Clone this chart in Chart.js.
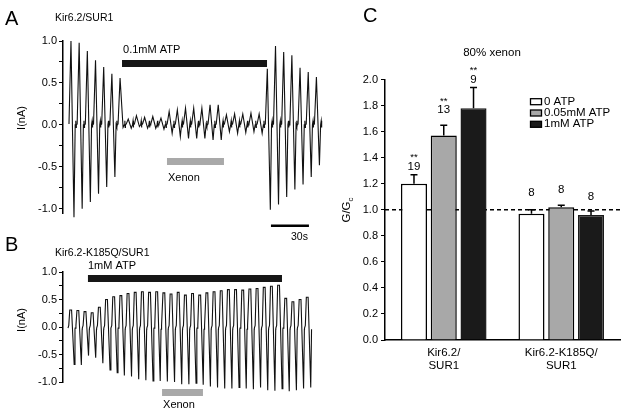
<!DOCTYPE html>
<html><head><meta charset="utf-8">
<script src="https://cdn.jsdelivr.net/npm/chart.js@4/dist/chart.umd.min.js"></script>
<style>
html,body{margin:0;padding:0;background:#fff;}
#wrap{position:relative;width:625px;height:414px;overflow:hidden;background:#fff;}
.box{position:absolute;}
</style></head><body>
<div id="wrap">
<div class="box" style="left:0;top:0;width:330px;height:245px"><canvas id="cA"></canvas></div>
<div class="box" style="left:0;top:228px;width:330px;height:186px"><canvas id="cB"></canvas></div>
<div class="box" style="left:330px;top:0;width:295px;height:414px"><canvas id="cC"></canvas></div>
</div>
<script>
// ---------------- DATA ----------------
// Panel A (Kir6.2/SUR1): peak and trough current (nA) of each voltage-ramp cycle
const aPeaks   = [1.00,0.98,0.88,0.77,0.69,0.61,0.56,
                  0.07,0.11,0.09,0.10,0.08,0.16,0.18,0.20,0.20,0.20,0.24,0.24,0.12,0.13,0.13,0.14,0.13,
                  0.67,0.94,0.87,0.83,0.68,0.63,0.57];
const aTroughs = [-1.10,-1.00,-0.92,-0.82,-0.74,-0.62,-0.03,
                  -0.04,-0.02,-0.04,-0.04,-0.05,-0.10,-0.14,-0.16,-0.16,-0.16,-0.18,-0.18,-0.08,-0.10,-0.09,-0.08,-0.10,
                  -1.01,-0.95,-0.86,-0.77,-0.71,-0.62,-0.48];
const aFirstCycle = 6.3;    // s
const aCyclePeriod = 6.46;  // s
const aATP = [46.6, 161.1];      // s, 0.1mM ATP application
const aXenon = [82.1, 127.1];    // s, xenon application
const scaleBar = [164.2, 194.2]; // 30 s
const aTickValues = [-1, -0.75, -0.5, -0.25, 0, 0.25, 0.5, 0.75, 1];
const aTickLabels = ['-1.0', '', '-0.5', '', '0.0', '', '0.5', '', '1.0'];

// Panel B (Kir6.2-K185Q/SUR1)
const bPeaks   = [0.31,0.30,0.28,0.26,0.36,0.50,0.55,0.57,0.61,0.63,0.64,0.63,0.64,0.62,0.60,0.63,0.58,
                  0.61,0.58,0.62,0.64,0.66,0.68,0.68,0.67,0.69,0.70,0.72,0.74,0.76,0.52,0.46,0.50,0.54];
const bTroughs = [-0.68,-0.69,-0.52,-0.56,-0.66,-0.78,-0.83,-0.88,-0.90,-0.95,-0.97,-0.98,-0.98,-0.99,-1.00,-1.04,-1.04,
                  -1.02,-1.05,-1.08,-1.10,-1.12,-1.12,-1.10,-1.12,-1.13,-1.10,-1.15,-1.16,-1.12,-1.17,-1.15,-1.12,-1.10];
const bFirstCycle = 6.3;    // s
const bCyclePeriod = 5.66;  // s
const bATP = [19.7, 172.9];
const bXenon = [78.2, 110.5];

// Panel C (G/Gc, 80% xenon)
const categories = [['Kir6.2/', 'SUR1'], ['Kir6.2-K185Q/', 'SUR1']];
const atp0     = [1.20, 0.97];
const atp0Err  = [0.07, 0.03];
const atp005   = [1.57, 1.02];
const atp005Err= [0.08, 0.015];
const atp1     = [1.78, 0.96];
const atp1Err  = [0.16, 0.03];
const atp0N    = ['19', '8'];
const atp005N  = ['13', '8'];
const atp1N    = ['9', '8'];
const atp0Sig  = ['**', ''];
const atp005Sig= ['**', ''];
const atp1Sig  = ['**', ''];
const cTickValues = [0, 0.2, 0.4, 0.6, 0.8, 1.0, 1.2, 1.4, 1.6, 1.8, 2.0];
const cTickLabels = ['0.0','0.2','0.4','0.6','0.8','1.0','1.2','1.4','1.6','1.8','2.0'];

// ---------------- HELPERS ----------------
const FONT = "'Liberation Sans', Arial, Helvetica, sans-serif";
function text(ctx, s, x, y, size, align, base, color) {
  ctx.save();
  ctx.font = size + 'px ' + FONT;
  ctx.fillStyle = color || '#000';
  ctx.textAlign = align || 'left';
  ctx.textBaseline = base || 'middle';
  ctx.fillText(s, x, y);
  ctx.restore();
}
function vtext(ctx, s, x, y, size) {
  ctx.save();
  ctx.translate(x, y);
  ctx.rotate(-Math.PI / 2);
  text(ctx, s, 0, 0, size, 'center', 'middle');
  ctx.restore();
}
// waveform of one cycle: [time offset (s), value or 'P' (peak) / 'T' (trough)]
const shapeA = [[-1.58, 0.01], [0, 'P'], [2.37, 'T'], [3.32, 0], [3.79, 0.05], [4.03, -0.03], [4.26, 0]];
const shapeB = [[-2.37, -0.02], [-1.74, 0.03], [-0.95, 'P'], [0.47, 'P'], [2.53, 'T'], [3.16, -0.04]];
function buildTrace(peaks, troughs, t0, period, shape) {
  const pts = [];
  peaks.forEach((pk, i) => {
    const c = t0 + i * period;
    shape.forEach(s => {
      const v = s[1] === 'P' ? pk : (s[1] === 'T' ? troughs[i] : s[1]);
      pts.push({ x: c + s[0], y: v });
    });
  });
  return pts;
}
Chart.defaults.font.family = FONT;
Chart.defaults.color = '#000';

function traceOptions(padding, xmax, ymin, ymax, ticksV, ticksL) {
  return {
    responsive: true, maintainAspectRatio: false, animation: false, events: [],
    layout: { padding },
    plugins: { legend: { display: false }, tooltip: { enabled: false } },
    scales: {
      x: { type: 'linear', min: 0, max: xmax, display: false },
      y: {
        type: 'linear', min: ymin, max: ymax,
        afterFit(s) { s.width = 63; },
        afterBuildTicks(s) { s.ticks = ticksV.map(v => ({ value: v })); },
        ticks: { autoSkip: false, padding: 2, font: { size: 11 }, color: '#000',
                 callback: (v, i) => ticksL[i] },
        grid: { drawOnChartArea: false, drawTicks: true, tickLength: 4, color: '#000', lineWidth: 1 },
        border: { display: true, color: '#000', width: 1.5 }
      }
    }
  };
}

// ---------------- PANEL A ----------------
const annotA = {
  id: 'annotA',
  afterDraw(chart) {
    const ctx = chart.ctx, xs = chart.scales.x;
    text(ctx, 'A', 5, 19, 20);
    text(ctx, 'Kir6.2/SUR1', 55, 18, 10.5);
    vtext(ctx, 'I(nA)', 22, 118, 11);
    ctx.fillStyle = '#161616';
    const a0 = xs.getPixelForValue(aATP[0]), a1 = xs.getPixelForValue(aATP[1]);
    ctx.fillRect(a0, 60, a1 - a0, 7);
    text(ctx, '0.1mM ATP', a0 + 1, 49.5, 11);
    ctx.fillStyle = '#a9a9a9';
    const x0 = xs.getPixelForValue(aXenon[0]), x1 = xs.getPixelForValue(aXenon[1]);
    ctx.fillRect(x0, 158, x1 - x0, 7);
    text(ctx, 'Xenon', x0 + 1, 178, 11);
    ctx.fillStyle = '#000';
    const s0 = xs.getPixelForValue(scaleBar[0]), s1 = xs.getPixelForValue(scaleBar[1]);
    ctx.fillRect(s0, 224.5, s1 - s0, 2.5);
    text(ctx, '30s', s1 - 1, 237, 10.5, 'right');
  }
};
new Chart(document.getElementById('cA'), {
  type: 'line',
  data: { datasets: [{ data: buildTrace(aPeaks, aTroughs, aFirstCycle, aCyclePeriod, shapeA),
    borderColor: '#111', borderWidth: 1.1, pointRadius: 0, tension: 0, clip: false }] },
  options: traceOptions({ left: 0, right: 7, top: 41, bottom: 32 }, 205.3, -1.05, 1.0, aTickValues, aTickLabels),
  plugins: [annotA]
});

// ---------------- PANEL B ----------------
const annotB = {
  id: 'annotB',
  afterDraw(chart) {
    const ctx = chart.ctx, xs = chart.scales.x;
    text(ctx, 'B', 5, 17, 20);
    text(ctx, 'Kir6.2-K185Q/SUR1', 55, 25, 10.5);
    vtext(ctx, 'I(nA)', 22, 92, 11);
    ctx.fillStyle = '#161616';
    const a0 = xs.getPixelForValue(bATP[0]), a1 = xs.getPixelForValue(bATP[1]);
    ctx.fillRect(a0, 47, a1 - a0, 7);
    text(ctx, '1mM ATP', a0, 37.5, 11);
    ctx.fillStyle = '#a9a9a9';
    const x0 = xs.getPixelForValue(bXenon[0]), x1 = xs.getPixelForValue(bXenon[1]);
    ctx.fillRect(x0, 161, x1 - x0, 7);
    text(ctx, 'Xenon', x0 + 1, 177, 11);
  }
};
new Chart(document.getElementById('cB'), {
  type: 'line',
  data: { datasets: [{ data: buildTrace(bPeaks, bTroughs, bFirstCycle, bCyclePeriod, shapeB),
    borderColor: '#111', borderWidth: 1.1, pointRadius: 0, tension: 0, clip: false }] },
  options: traceOptions({ left: 0, right: 18, top: 44, bottom: 32 }, 196.6, -1.0, 1.0, aTickValues, aTickLabels),
  plugins: [annotB]
});

// ---------------- PANEL C ----------------
const errs = [atp0Err, atp005Err, atp1Err];
const ns = [atp0N, atp005N, atp1N];
const sigs = [atp0Sig, atp005Sig, atp1Sig];
const nOffset = [[8, 17], [15, 15.5], [8, 14]]; // px gap between error-bar top and n label (layout)
const refLine = {
  id: 'refLine',
  beforeDatasetsDraw(chart) {
    const ctx = chart.ctx, ys = chart.scales.y, a = chart.chartArea;
    const y = ys.getPixelForValue(1.0);
    ctx.save();
    ctx.strokeStyle = '#000'; ctx.lineWidth = 1.5; ctx.setLineDash([4, 3]);
    ctx.beginPath(); ctx.moveTo(a.left, y); ctx.lineTo(a.right, y); ctx.stroke();
    ctx.restore();
  }
};
const annotC = {
  id: 'annotC',
  afterDatasetsDraw(chart) {
    const ctx = chart.ctx, ys = chart.scales.y;
    chart.data.datasets.forEach((ds, i) => {
      const meta = chart.getDatasetMeta(i);
      meta.data.forEach((bar, j) => {
        const top = ys.getPixelForValue(ds.data[j] + errs[i][j]);
        ctx.save();
        ctx.strokeStyle = '#000'; ctx.lineWidth = 1.5;
        ctx.beginPath();
        ctx.moveTo(bar.x, bar.y); ctx.lineTo(bar.x, top);
        ctx.moveTo(bar.x - 3.5, top); ctx.lineTo(bar.x + 3.5, top);
        ctx.stroke();
        ctx.restore();
        const ny = top - nOffset[i][j];
        text(ctx, ns[i][j], bar.x, ny, 11.5, 'center');
        if (sigs[i][j]) text(ctx, sigs[i][j], bar.x, ny - 9, 9.5, 'center');
      });
    });
  },
  afterDraw(chart) {
    const ctx = chart.ctx;
    text(ctx, 'C', 33, 16, 20);
    text(ctx, '80% xenon', 162, 53, 11.5, 'center');
    // y title G/Gc
    ctx.save();
    ctx.translate(16, 210);
    ctx.rotate(-Math.PI / 2);
    ctx.font = '11.5px ' + FONT;
    const w1 = ctx.measureText('G/G').width;
    ctx.font = '8px ' + FONT;
    const w2 = ctx.measureText('c').width;
    const start = -(w1 + w2) / 2;
    ctx.fillStyle = '#000';
    ctx.textBaseline = 'alphabetic';
    ctx.font = '11.5px ' + FONT;
    ctx.fillText('G/G', start, 4);
    ctx.font = '8px ' + FONT;
    ctx.fillText('c', start + w1, 7);
    ctx.restore();
    // legend
    chart.data.datasets.forEach((ds, i) => {
      const cy = 101.7 + i * 11.3;
      ctx.save();
      ctx.fillStyle = ds.backgroundColor;
      ctx.strokeStyle = '#000';
      ctx.lineWidth = 1.3;
      ctx.fillRect(200.5, cy - 3, 11, 6);
      ctx.strokeRect(200.5, cy - 3, 11, 6);
      ctx.restore();
      text(ctx, ds.label, 214, cy, 11.5);
    });
  }
};
new Chart(document.getElementById('cC'), {
  type: 'bar',
  data: {
    labels: categories,
    datasets: [
      { label: '0 ATP', data: atp0, backgroundColor: '#ffffff', borderColor: '#000', borderWidth: 1.5 },
      { label: '0.05mM ATP', data: atp005, backgroundColor: '#a8a8a8', borderColor: '#000', borderWidth: 1.5 },
      { label: '1mM ATP', data: atp1, backgroundColor: '#1a1a1a', borderColor: '#1a1a1a', borderWidth: 1.5 }
    ]
  },
  options: {
    responsive: true, maintainAspectRatio: false, animation: false, events: [],
    layout: { padding: { left: 0, right: 5, top: 79.6, bottom: 0 } },
    datasets: { bar: { categoryPercentage: 0.76, barPercentage: 0.875, borderSkipped: 'start' } },
    plugins: { legend: { display: false }, tooltip: { enabled: false } },
    scales: {
      x: {
        afterFit(s) { s.height = 74; },
        grid: { display: false, drawTicks: false },
        border: { display: true, color: '#000', width: 1.5 },
        ticks: { padding: 6, font: { size: 11.5, lineHeight: 1.15 }, color: '#000', maxRotation: 0 }
      },
      y: {
        min: 0, max: 2.0,
        afterFit(s) { s.width = 55; },
        afterBuildTicks(s) { s.ticks = cTickValues.map(v => ({ value: v })); },
        ticks: { autoSkip: false, padding: 3, font: { size: 11 }, color: '#000', callback: (v, i) => cTickLabels[i] },
        grid: { drawOnChartArea: false, drawTicks: true, tickLength: 4, color: '#000', lineWidth: 1 },
        border: { display: true, color: '#000', width: 1.5 }
      }
    }
  },
  plugins: [refLine, annotC]
});
</script>
</body></html>
